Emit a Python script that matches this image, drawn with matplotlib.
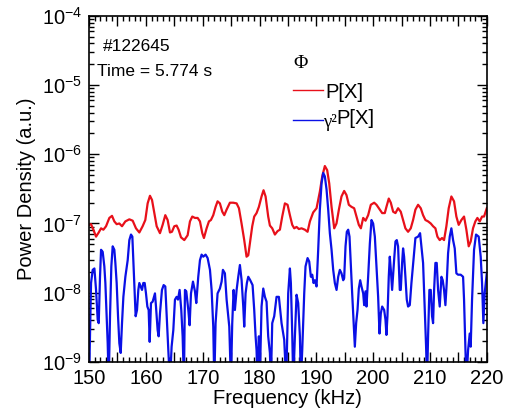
import numpy as np
import matplotlib
matplotlib.use('Agg')
import matplotlib.pyplot as plt
from matplotlib.ticker import MultipleLocator, FixedLocator, NullFormatter, FuncFormatter, LogFormatterSciNotation

plt.rcParams['font.family'] = ['Liberation Sans', 'DejaVu Sans']
plt.rcParams['mathtext.fontset'] = 'custom'
plt.rcParams['mathtext.rm'] = 'Liberation Sans'

# P[X] spectrum (frequency in kHz, log10 of power density)
red_f = [150.0, 150.35, 150.76, 151.23, 151.70, 152.11, 152.52, 152.99, 153.57, 154.04,
         154.45, 154.86, 155.33, 155.80, 156.39, 157.09, 157.68, 158.26, 158.85, 159.43,
         159.90, 160.31, 160.72, 161.08, 161.49, 161.90, 162.48, 162.95, 163.42, 163.83,
         164.24, 164.59, 165.00, 165.41, 165.76, 166.18, 166.76, 167.35, 167.76, 168.17,
         168.64, 169.11, 169.52, 169.93, 170.22, 170.69, 171.10, 171.45, 171.86, 172.27,
         172.62, 173.03, 173.45, 173.80, 174.21, 174.79, 175.38, 175.97, 176.38, 176.84,
         177.31, 177.72, 178.02, 178.31, 178.72, 179.07, 179.48, 179.89, 180.36, 180.71,
         181.07, 181.53, 181.83, 182.24, 182.71, 183.18, 183.59, 184.00, 184.47, 184.94,
         185.35, 185.76, 186.11, 186.52, 186.93, 187.40, 187.99, 188.46, 188.87, 189.45,
         190.04, 190.62, 191.04, 191.50, 191.91, 192.27, 192.68, 193.15, 193.55, 193.97,
         194.43, 194.90, 195.31, 195.72, 196.19, 196.66, 197.07, 197.48, 197.84, 198.25,
         198.66, 199.12, 199.59, 200.18, 200.59, 201.00, 201.59, 202.05, 202.34, 202.75,
         203.11, 203.52, 203.93, 204.39, 204.86, 205.27, 205.68, 206.15, 206.62, 207.03,
         207.44, 207.91, 208.38, 208.79, 209.20, 209.67, 210.14, 210.55, 210.96, 211.31,
         211.72, 212.13, 212.48, 212.89, 213.30, 213.77, 214.24, 214.65, 215.06, 215.53,
         216.00, 216.41, 216.82, 217.17, 217.58, 217.99, 218.35, 218.76, 219.17, 219.52,
         220.0]
red_lg = [-7.02, -7.01, -7.09, -7.19, -7.13, -7.07, -7.09, -7.04, -6.92, -6.89,
          -6.97, -7.01, -7.00, -7.04, -6.97, -6.94, -6.96, -7.07, -7.13, -7.04,
          -6.95, -6.71, -6.60, -6.66, -6.85, -7.04, -7.14, -7.02, -6.88, -6.95,
          -7.13, -7.12, -7.04, -7.03, -7.09, -7.20, -7.24, -7.17, -6.97, -6.90,
          -6.92, -6.92, -6.97, -7.14, -7.21, -7.07, -6.97, -6.95, -6.88, -6.76,
          -6.68, -6.71, -6.83, -6.88, -6.80, -6.70, -6.70, -6.71, -6.78, -7.00,
          -7.24, -7.48, -7.46, -7.29, -7.04, -6.90, -6.85, -6.76, -6.61, -6.52,
          -6.61, -6.90, -7.03, -7.07, -7.16, -7.11, -7.09, -6.90, -6.71, -6.73,
          -6.88, -7.02, -7.07, -7.05, -7.08, -7.07, -7.09, -7.12, -6.97, -6.84,
          -6.78, -6.54, -6.32, -6.17, -6.23, -6.42, -6.76, -7.07, -7.00, -6.80,
          -6.61, -6.53, -6.59, -6.73, -6.76, -6.78, -6.90, -7.02, -7.07, -6.92,
          -6.96, -6.88, -6.73, -6.70, -6.73, -6.78, -6.85, -6.85, -6.76, -6.64,
          -6.70, -6.83, -6.85, -6.78, -6.83, -6.95, -7.07, -7.12, -7.07, -6.95,
          -6.80, -6.73, -6.78, -6.88, -6.95, -6.97, -7.00, -7.04, -7.07, -7.19,
          -7.24, -7.21, -7.24, -7.04, -6.78, -6.61, -6.68, -6.90, -7.02, -6.95,
          -6.90, -7.09, -7.33, -7.26, -7.07, -6.97, -6.92, -6.97, -6.90, -6.90,
          -6.78]

# gamma^2 P[X] spectrum (values below -9 leave the frame)
blue_f = [150.0, 150.35, 150.64, 150.94, 151.23, 151.52, 151.70, 151.93, 152.11, 152.40,
          152.69, 152.87, 153.10, 153.28, 153.46, 153.69, 153.92, 154.16, 154.45, 154.63,
          154.86, 155.10, 155.33, 155.57, 155.80, 156.04, 156.39, 156.80, 157.09, 157.38,
          157.62, 157.79, 158.03, 158.20, 158.44, 158.67, 158.85, 159.08, 159.32, 159.55,
          159.79, 160.02, 160.26, 160.49, 160.67, 160.90, 161.19, 161.60, 161.78, 162.07,
          162.25, 162.48, 162.83, 163.13, 163.42, 163.66, 163.95, 164.24, 164.53, 164.83,
          165.12, 165.41, 165.65, 165.94, 166.23, 166.47, 166.70, 166.88, 167.11, 167.47,
          167.70, 167.94, 168.29, 168.64, 168.87, 169.22, 169.52, 169.81, 170.10, 170.51,
          170.87, 171.28, 171.57, 171.86, 172.04, 172.27, 172.62, 173.03, 173.33, 173.56,
          173.91, 174.21, 174.50, 174.68, 174.97, 175.20, 175.44, 175.67, 175.97, 176.26,
          176.55, 176.85, 177.14, 177.31, 177.55, 177.78, 178.02, 178.37, 178.78, 179.07,
          179.31, 179.48, 179.66, 179.89, 180.07, 180.36, 180.66, 180.95, 181.24, 181.53,
          181.83, 182.00, 182.24, 182.59, 183.00, 183.41, 183.88, 184.35, 184.70, 185.05,
          185.35, 185.52, 185.76, 185.94, 186.23, 186.52, 186.81, 187.11, 187.28, 187.52,
          187.87, 188.10, 188.46, 188.75, 189.04, 189.28, 189.51, 189.75, 190.04, 190.33,
          190.62, 190.92, 191.21, 191.50, 191.80, 192.09, 192.38, 192.68, 192.97, 193.26,
          193.56, 193.85, 194.14, 194.43, 194.73, 194.90, 195.14, 195.37, 195.61, 195.84,
          196.08, 196.31, 196.55, 196.78, 197.01, 197.25, 197.48, 197.72, 197.95, 198.25,
          198.42, 198.66, 198.83, 199.12, 199.42, 199.71, 200.00, 200.30, 200.59, 200.88,
          201.12, 201.35, 201.59, 201.94, 202.17, 202.34, 202.52, 202.75, 202.93, 203.11,
          203.34, 203.69, 203.93, 204.16, 204.39, 204.69, 204.86, 205.10, 205.27, 205.45,
          205.68, 205.92, 206.15, 206.45, 206.74, 207.09, 207.44, 207.91, 208.26, 208.50,
          208.79, 209.08, 209.32, 209.49, 209.67, 209.90, 210.14, 210.37, 210.55, 210.73,
          210.96, 211.19, 211.43, 211.72, 212.02, 212.25, 212.48, 212.72, 212.95, 213.19,
          213.48, 213.77, 214.07, 214.36, 214.65, 214.95, 215.41, 215.83, 216.00, 216.24,
          216.41, 216.71, 217.00, 217.17, 217.41, 217.76, 218.11, 218.58, 218.93, 219.17,
          219.40, 219.63, 220.0]
blue_lg = [-9.3, -7.86, -7.67, -7.65, -7.96, -8.39, -8.44, -7.77, -7.38, -7.41,
           -7.62, -7.86, -8.34, -8.73, -9.3, -8.34, -7.62, -7.33, -7.38, -7.57,
           -7.86, -8.34, -8.73, -8.87, -8.44, -8.06, -7.77, -7.53, -7.24, -7.16,
           -7.19, -7.53, -8.01, -8.34, -8.25, -7.96, -7.86, -7.91, -7.96, -7.86,
           -7.86, -8.01, -8.20, -8.25, -8.71, -8.15, -8.13, -8.01, -8.20, -8.54,
           -8.63, -8.30, -7.96, -7.89, -7.91, -8.34, -8.83, -9.3, -8.78, -8.54,
           -8.10, -8.06, -8.10, -7.96, -8.25, -8.63, -9.3, -7.96, -7.98, -8.25,
           -8.47, -8.01, -7.84, -7.98, -8.15, -7.77, -7.53, -7.45, -7.48, -7.45,
           -7.50, -7.67, -7.96, -8.49, -9.3, -8.44, -8.01, -7.94, -7.84, -7.67,
           -7.72, -8.10, -8.34, -8.49, -9.3, -8.44, -7.96, -8.25, -7.96, -7.77,
           -7.60, -7.82, -8.20, -8.49, -8.01, -7.86, -7.77, -7.82, -7.89, -8.25,
           -8.63, -8.83, -9.3, -8.63, -9.2, -8.20, -7.94, -8.06, -8.13, -8.63,
           -8.87, -9.3, -8.44, -8.34, -8.06, -8.06, -8.44, -8.68, -9.3, -8.01,
           -7.65, -7.86, -8.59, -9.3, -8.63, -8.03, -8.15, -8.63, -9.3, -8.83,
           -8.01, -7.62, -7.50, -7.55, -7.77, -7.74, -7.86, -7.82, -7.91, -7.38,
           -6.80, -6.42, -6.27, -6.32, -6.51, -6.80, -7.14, -7.38, -7.67, -7.86,
           -7.96, -7.77, -7.67, -7.72, -7.82, -7.79, -7.33, -7.12, -7.09, -7.19,
           -7.62, -8.01, -8.39, -8.78, -8.44, -8.25, -7.94, -7.82, -7.91, -8.01,
           -8.18, -7.98, -8.20, -7.77, -7.29, -6.95, -7.00, -7.19, -7.62, -8.06,
           -8.59, -8.30, -8.20, -8.25, -8.39, -8.61, -8.34, -7.77, -7.48, -7.67,
           -7.96, -7.53, -7.26, -7.24, -7.33, -7.96, -7.96, -7.57, -7.36, -7.48,
           -7.77, -8.10, -8.20, -8.18, -7.86, -7.53, -7.21, -7.19, -7.14, -7.33,
           -7.57, -8.25, -8.78, -9.3, -8.63, -7.96, -7.96, -8.34, -8.44, -7.96,
           -7.57, -7.57, -7.96, -8.20, -7.77, -7.82, -7.96, -8.18, -7.86, -7.43,
           -7.19, -7.07, -7.24, -7.36, -7.72, -7.74, -7.74, -7.77, -8.10, -8.83,
           -9.3, -8.83, -8.59, -8.78, -8.10, -7.38, -7.16, -7.19, -7.48, -7.86,
           -8.44, -8.01, -7.72]

decades = [1e-9, 1e-8, 1e-7, 1e-6, 1e-5, 1e-4]

red_p = 10 ** np.array(red_lg)
blue_p = 10 ** np.array(blue_lg)

fig = plt.figure(figsize=(5.06, 4.16), dpi=100)
ax = fig.add_axes([0.176, 0.130, 0.786, 0.832])

ax.plot(red_f, red_p, color='#e8101a', lw=1.6)
ax.plot(blue_f, blue_p, color='#0a10e6', lw=1.6)

ax.set_yscale('log')
ax.set_xlim(150, 220)
ax.set_ylim(1e-9, 1e-4)
# major ticks every 5 kHz, labelled every 10 kHz
ax.xaxis.set_major_locator(MultipleLocator(5))
ax.xaxis.set_major_formatter(FuncFormatter(lambda v, p: f'{v:.0f}' if round(v) % 10 == 0 else ''))
ax.xaxis.set_minor_locator(MultipleLocator(1))
ax.yaxis.set_major_locator(FixedLocator(decades))
ax.yaxis.set_major_formatter(LogFormatterSciNotation())
ax.yaxis.set_minor_locator(FixedLocator([m * d for d in decades[:-1] for m in range(2, 10)]))
ax.yaxis.set_minor_formatter(NullFormatter())
ax.tick_params(which='both', direction='in', top=True, right=True, width=1.0)
ax.tick_params(which='major', length=7, labelsize=14.5)
ax.tick_params(which='minor', length=3.5)
ax.tick_params(axis='x', pad=5)
ax.tick_params(axis='y', pad=5)
for s in ax.spines.values():
    s.set_linewidth(1.2)

ax.set_xlabel('Frequency (kHz)', fontsize=14.5, labelpad=1)
ax.set_ylabel('Power Density (a.u.)', fontsize=14.5, labelpad=4)

ax.text(0.035, 0.910, '#122645', transform=ax.transAxes, fontsize=12.5, va='center')
ax.text(0.020, 0.838, 'Time = 5.774 s', transform=ax.transAxes, fontsize=12.5, va='center')

# hand-drawn legend
ax.text(0.513, 0.861, '\u03a6', transform=ax.transAxes, fontsize=14, va='center',
        family='Liberation Serif')
ax.plot([0.513, 0.588], [0.786, 0.786], transform=ax.transAxes, color='#e8101a', lw=1.0)
ax.text(0.593, 0.777, 'P[X]', transform=ax.transAxes, fontsize=14.5, va='center')
ax.plot([0.513, 0.588], [0.699, 0.699], transform=ax.transAxes, color='#0a10e6', lw=1.0)
ax.text(0.588, 0.693, '\u03b3\u00b2', transform=ax.transAxes, fontsize=13.5, va='center',
        family='Liberation Serif')
ax.text(0.622, 0.703, 'P[X]', transform=ax.transAxes, fontsize=14.5, va='center')

fig.savefig('out.png', dpi=100)
